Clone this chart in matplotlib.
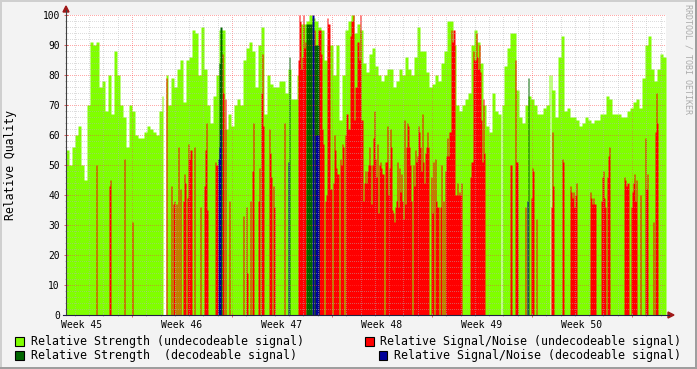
import matplotlib

matplotlib.use("Agg")
import matplotlib.pyplot as plt
import numpy as np
from matplotlib.lines import Line2D
from matplotlib.patches import Polygon, Rectangle

W, H, DPI = 697, 369, 100
plt.rcParams.update({"font.family": "DejaVu Sans Mono", "figure.dpi": DPI})

# time axis: one sample = 1.68 h, counted in days from Monday of week 45
START_DAY = 2.38
STEP_DAY = 0.07
N_SAMPLES = 600
WEEKS = [45, 46, 47, 48, 49, 50]

# relative strength (undecodeable), one value per 3 samples
GREEN_BINS = [
    55, 50, 56, 60, 63, 50, 45, 70, 91, 90, 91, 76, 78, 68, 80, 67, 88, 80, 70, 66,
    56, 70, 68, 60, 59, 59, 61, 63, 62, 61, 60, 68, 73,
    80, 70, 79, 76, 82, 85, 71, 85, 86, 95, 94, 80, 96, 82, 70, 64, 73, 80, 95, 95,
    62, 67, 63, 70, 72, 70, 85, 89, 91, 88, 76, 90, 96, 67,
    80, 77, 76, 76, 78, 78, 74, 82, 72, 72, 80, 97, 97, 98, 100, 99, 98, 96, 95, 85,
    90, 90, 80, 90, 65, 80, 95, 98, 100, 94, 97, 95, 84,
    81, 87, 89, 83, 80, 78, 80, 82, 82, 76, 78, 82, 80, 86, 82, 80, 86, 96, 88, 88,
    81, 76, 77, 80, 78, 84, 88, 98, 98, 90, 70, 68, 70,
    72, 74, 90, 95, 91, 84, 70, 63, 61, 74, 68, 67, 70, 83, 89, 94, 94, 75, 66, 64,
    70, 73, 72, 70, 67, 67, 69, 70, 80, 75, 66, 86, 93,
    68, 69, 66, 66, 65, 63, 64, 66, 65, 64, 65, 65, 67, 67, 73, 72, 67, 67, 67, 66,
    66, 68, 69, 71, 72, 69, 79, 90, 93, 82, 78, 82, 87, 86,
]
# samples with no data at all
GAPS = [97, 98, 99, 435, 484]

# relative signal/noise (undecodeable): (sample, value)
RED_SNR = [
    (30, 50), (43, 43), (44, 45), (58, 52), (66, 31),
    (100, 79), (105, 43), (107, 37), (108, 38), (110, 37), (112, 56), (114, 42),
    (117, 38), (118, 47), (119, 44), (121, 39), (122, 57), (123, 52), (124, 55),
    (125, 55), (128, 56), (134, 36), (138, 43), (139, 55), (140, 64), (141, 35),
    (149, 51), (150, 50), (151, 50), (156, 87), (157, 74), (159, 72), (163, 38),
    (177, 33), (180, 36), (181, 14), (184, 38), (186, 48), (187, 64), (192, 38),
    (193, 49), (195, 74), (196, 87), (197, 63),
    (203, 62), (204, 54), (205, 46), (207, 43), (208, 36), (218, 64),
    (232, 85), (233, 100), (234, 98), (235, 82), (236, 86), (237, 100), (238, 89),
    (239, 91), (248, 95),
    (252, 95), (253, 95), (254, 95), (255, 87), (256, 62), (257, 57), (259, 38),
    (260, 40), (261, 99), (262, 97), (263, 97), (264, 42), (265, 42), (267, 44),
    (268, 60), (269, 55), (270, 49), (271, 47), (272, 47), (274, 52), (275, 50),
    (276, 57), (277, 56), (279, 60), (280, 67), (281, 67), (282, 62), (283, 62),
    (284, 93), (285, 98), (286, 98), (287, 100), (288, 65), (289, 76), (290, 76),
    (291, 91), (292, 91), (293, 85), (294, 100), (295, 65), (296, 65), (297, 38),
    (298, 44), (299, 48),
    (300, 44), (301, 48), (302, 50), (303, 56), (304, 50), (305, 37), (306, 50),
    (307, 59), (308, 68), (309, 52), (310, 46), (311, 57), (312, 34), (313, 50),
    (314, 51), (315, 49), (316, 47), (317, 47), (319, 51), (320, 51), (321, 63),
    (322, 40), (323, 49), (324, 62), (325, 56), (326, 35), (327, 34), (328, 31),
    (329, 36), (330, 38), (331, 51), (332, 36), (333, 49), (334, 41), (335, 47),
    (336, 38), (337, 32), (338, 65), (339, 37), (340, 56), (341, 64), (342, 63),
    (343, 56), (344, 50), (345, 38), (347, 50), (348, 43), (349, 55), (350, 51),
    (351, 53), (352, 63), (353, 61), (354, 56), (355, 48), (356, 67), (357, 51),
    (358, 44), (359, 54), (360, 56), (361, 61), (362, 56), (365, 46), (366, 34),
    (367, 51), (369, 52), (370, 38), (371, 36), (372, 36), (374, 36), (375, 50),
    (377, 38), (379, 48), (380, 53), (381, 59), (382, 53), (383, 61), (384, 61),
    (385, 95), (386, 91), (387, 95), (388, 95), (389, 40), (390, 40), (391, 44),
    (392, 40), (393, 41), (394, 40), (395, 44),
    (404, 46), (405, 51), (406, 51), (407, 88), (408, 85), (409, 85), (410, 94),
    (411, 86), (412, 82), (413, 90), (414, 81), (415, 65), (416, 51), (417, 72),
    (418, 54),
    (444, 50), (445, 50), (449, 85), (450, 51), (451, 51), (459, 36), (465, 39),
    (466, 49), (467, 48), (470, 32), (485, 36), (486, 61), (487, 43), (496, 52),
    (497, 51),
    (504, 43), (505, 41), (506, 39), (507, 41), (508, 36), (509, 40), (510, 44),
    (524, 41), (525, 39), (526, 37), (527, 39), (528, 37), (529, 37),
    (535, 38), (536, 46), (537, 48), (538, 39), (539, 36), (541, 46), (542, 53),
    (543, 56), (558, 46), (559, 45), (560, 43), (561, 44), (562, 44),
    (565, 36), (566, 41), (567, 44), (568, 47), (569, 38), (570, 45), (574, 40),
    (579, 59), (580, 42), (581, 47), (587, 31), (589, 61), (590, 74), (591, 64),
]

# relative strength (decodeable)
DGREEN_STR = [
    (153, 84), (154, 96), (155, 96), (223, 86),
    (240, 97), (241, 97), (242, 97), (243, 97), (244, 97), (245, 97),
    (248, 90), (249, 90), (250, 90), (251, 90), (252, 90), (462, 79),
]

# relative signal/noise (decodeable)
BLUE_SNR = [
    (152, 52), (153, 56), (154, 62), (222, 51), (246, 100), (247, 100),
    (249, 60), (250, 60), (251, 60), (252, 60), (461, 38),
]

C_GREEN, C_RED, C_DGREEN, C_BLUE = "#80FF00", "#FF0000", "#006600", "#000099"


def to_series(pairs):
    s = np.zeros(N_SAMPLES)
    for i, v in pairs:
        s[i] = v
    return s


def fx(px):
    return px / W


def fy(py):
    return 1 - py / H


fig = plt.figure(figsize=(W / DPI, H / DPI), dpi=DPI, facecolor="#F3F3F3")
ax = fig.add_axes([fx(66), fy(315), 600 / W, 300 / H])
ax.set_facecolor("white")

green = np.repeat(np.array(GREEN_BINS, dtype=float), 3)
green[GAPS] = 0
edges = START_DAY + np.arange(N_SAMPLES + 1) * STEP_DAY

for vals, col, z in [(green, C_GREEN, 1.0), (to_series(RED_SNR), C_RED, 1.1),
                     (to_series(DGREEN_STR), C_DGREEN, 1.2),
                     (to_series(BLUE_SNR), C_BLUE, 1.3)]:
    ax.fill_between(edges, np.append(vals, vals[-1]), step="post", color=col,
                    lw=0, antialiased=False, zorder=z)

x0, x1 = START_DAY, START_DAY + N_SAMPLES * STEP_DAY
ax.set_xlim(x0, x1)
ax.set_ylim(0, 100)

week_starts = [7 * k for k in range(1, 7) if x0 < 7 * k < x1]
days = [d for d in range(int(x0) + 1, int(x1) + 1)]
ax.set_xticks(week_starts)
ax.set_xticks(days, minor=True)
ax.set_xticklabels([])
ax.set_yticks(range(0, 101, 10))
ax.set_yticks(range(0, 101, 2), minor=True)
ax.set_yticklabels([str(v) for v in range(0, 101, 10)], fontsize=6.9)

# rrdtool-like dotted grid drawn over the areas
ax.set_axisbelow(False)
ax.grid(which="minor", color="#B4B4B4", alpha=0.45, lw=0.72, ls=(0, (1, 2)),
        antialiased=False)
ax.grid(which="major", color="#FF4040", alpha=0.45, lw=0.72, ls=(0, (1, 2)),
        antialiased=False)
ax.tick_params(which="major", direction="inout", length=3, width=0.72,
               color="#E06060", pad=3)
ax.tick_params(which="minor", direction="inout", length=2, width=0.72,
               color="#B0B0B0")
for sp in ax.spines.values():
    sp.set_visible(False)

# week labels centred on mid-week
for k, wk in enumerate(WEEKS):
    xm = 7 * k + 3.5
    ax.text(xm, -0.018, f"Week {wk}", transform=ax.get_xaxis_transform(),
            ha="center", va="top", fontsize=7.0, color="black")

# axes with arrows
fig.add_artist(Line2D([fx(66), fx(66)], [fy(315), fy(10)], color="#404040",
                      lw=0.8, transform=fig.transFigure))
fig.add_artist(Line2D([fx(63), fx(669)], [fy(315), fy(315)], color="#202040",
                      lw=0.8, transform=fig.transFigure))
fig.add_artist(Polygon([[fx(63), fy(12)], [fx(69), fy(12)], [fx(66), fy(6)]],
                       closed=True, color="#A01818", transform=fig.transFigure))
fig.add_artist(Polygon([[fx(668), fy(312)], [fx(668), fy(318)], [fx(674), fy(315)]],
                       closed=True, color="#A01818", transform=fig.transFigure))

fig.text(fx(11), fy(165), "Relative Quality", rotation=90, ha="center",
         va="center", fontsize=8.3)
fig.text(fx(688), fy(4), "RRDTOOL / TOBI OETIKER", rotation=270, ha="center",
         va="top", fontsize=6.0, color="#ABABAB")

# legend
legend_items = [
    (15, 341, C_GREEN, "Relative Strength (undecodeable signal)"),
    (365, 341, C_RED, "Relative Signal/Noise (undecodeable signal)"),
    (15, 355, C_DGREEN, "Relative Strength  (decodeable signal)"),
    (379, 355, C_BLUE, "Relative Signal/Noise (decodeable signal)"),
]
for bx, by, col, label in legend_items:
    fig.add_artist(Rectangle((fx(bx), fy(by + 4.5)), 8.5 / W, 8.5 / H,
                             facecolor=col, edgecolor="black", lw=0.8,
                             transform=fig.transFigure))
    fig.text(fx(bx + 15.5), fy(by), label, ha="left", va="center", fontsize=8.4)

# 3d-ish border of the image
fig.add_artist(Rectangle((0, fy(2)), 1, 2 / H, color="#CFCFCF", lw=0,
                         transform=fig.transFigure))
fig.add_artist(Rectangle((0, 0), 2 / W, 1, color="#CFCFCF", lw=0,
                         transform=fig.transFigure))
fig.add_artist(Rectangle((0, 0), 1, 2 / H, color="#9E9E9E", lw=0,
                         transform=fig.transFigure))
fig.add_artist(Rectangle((fx(695), 0), 2 / W, 1, color="#9E9E9E", lw=0,
                         transform=fig.transFigure))

fig.savefig("out.png", dpi=DPI, facecolor=fig.get_facecolor())
